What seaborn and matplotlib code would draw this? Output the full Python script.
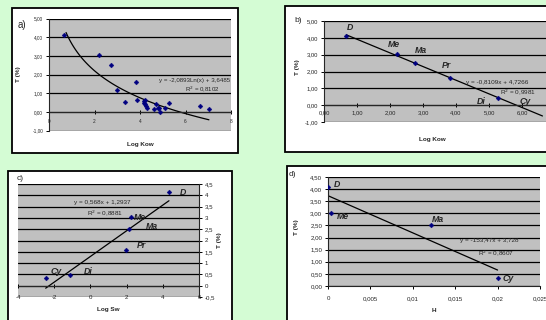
import matplotlib

matplotlib.use("Agg")

import matplotlib.pyplot as plt
import numpy as np
import pandas as pd
import seaborn as sns
from matplotlib.patches import Rectangle
from matplotlib.ticker import FuncFormatter, MultipleLocator

FIG_W, FIG_H = 546, 320
BG_GREEN = "#D4FCD4"
PLOT_GRAY = "#C0C0C0"
NAVY = "#000080"

# a) all compounds: log Kow vs T
A_LOGKOW = [0.68, 2.19, 2.73, 3.01, 3.32, 3.82, 3.86, 4.16, 4.18, 4.23, 4.24, 4.27,
            4.29, 4.60, 4.70, 4.77, 4.82, 4.89, 5.12, 5.29, 6.62, 7.03]
A_T = [4.11, 3.05, 2.50, 1.16, 0.54, 1.59, 0.66, 0.50, 0.59, 0.66, 0.40, 0.30,
       0.18, 0.14, 0.43, 0.23, 0.23, -0.02, 0.22, 0.45, 0.29, 0.16]
A_TREND = (-2.0893, 3.6485)  # y = a*Ln(x) + b

# b) named compounds: log Kow vs T
B_NAMES = ["D", "Me", "Ma", "Pr", "Di"]
B_LOGKOW = [0.68, 2.20, 2.75, 3.82, 5.28]
B_T = [4.10, 3.05, 2.50, 1.59, 0.45]
B_TREND = (-0.8109, 4.7266)
B_TREND_END = 6.62  # Cy

# c) log Sw vs T
C_NAMES = ["D", "Me", "Ma", "Pr", "Di", "Cy"]
C_LOGSW = [4.34, 2.27, 2.14, 1.98, -1.10, -2.47]
C_T = [4.13, 3.02, 2.50, 1.60, 0.47, 0.34]
C_TREND = (0.568, 1.2937)

# d) Henry constant vs T
D_NAMES = ["D", "Me", "Ma", "Cy"]
D_H = [0.0, 0.0003, 0.0121, 0.0200]
D_T = [4.09, 3.03, 2.50, 0.32]
D_TREND = (-153.47, 3.728)


def fig_rect(x0, y0, x1, y1):
    # pixel box (top-left origin) -> figure fraction [left, bottom, width, height]
    return [x0 / FIG_W, 1 - y1 / FIG_H, (x1 - x0) / FIG_W, (y1 - y0) / FIG_H]


def add_box(fig, x0, y0, x1, y1):
    l, b, w, h = fig_rect(x0, y0, x1, y1)
    fig.add_artist(Rectangle((l, b), w, h, transform=fig.transFigure, facecolor="white",
                             edgecolor="black", linewidth=1.3, zorder=-1))


def comma(fmt):
    return FuncFormatter(lambda v, p: format(v, fmt).replace(".", ","))


def style_axes(ax, tick_size):
    ax.set_facecolor(PLOT_GRAY)
    ax.grid(axis="y", color="black", linewidth=0.9)
    ax.grid(axis="x", visible=False)
    ax.set_axisbelow(True)
    for side in ["top", "right", "left", "bottom"]:
        ax.spines[side].set_visible(False)
    ax.tick_params(axis="both", labelsize=tick_size, length=2.2, width=0.7, color="black", pad=2)


def scatter(ax, x, y):
    df = pd.DataFrame({"x": x, "y": y})
    sns.scatterplot(data=df, x="x", y="y", ax=ax, marker="D", s=6, color=NAVY,
                    edgecolor=NAVY, linewidth=0.3, zorder=3, legend=False)


def trend(ax, x, y):
    df = pd.DataFrame({"x": x, "y": y})
    sns.lineplot(data=df, x="x", y="y", ax=ax, color="black", linewidth=0.9,
                 estimator=None, sort=False, zorder=2)


def point_labels(ax, names, spots, size=6.3):
    for name in names:
        x, y = spots[name]
        ax.text(x, y, name, fontsize=size, fontweight="bold", fontstyle="italic",
                ha="center", va="center", zorder=4)


def main():
    sns.set_style("ticks")
    plt.rcParams["font.family"] = ["Liberation Sans", "DejaVu Sans"]

    fig = plt.figure(figsize=(FIG_W / 100, FIG_H / 100), dpi=100, facecolor=BG_GREEN)

    add_box(fig, 12, 8, 238, 153)
    add_box(fig, 285, 6, 570, 152)
    add_box(fig, 7.5, 171, 231.5, 340)
    add_box(fig, 287, 166, 570, 340)

    # ---- a) ----
    ax = fig.add_axes(fig_rect(49, 18.5, 231, 130.5))
    style_axes(ax, 3.4)
    xs = np.linspace(min(A_LOGKOW) + 0.07, max(A_LOGKOW), 120)
    trend(ax, xs, A_TREND[0] * np.log(xs) + A_TREND[1])
    scatter(ax, A_LOGKOW, A_T)
    ax.set_xlim(0, 8)
    ax.set_ylim(-1, 5)
    ax.xaxis.set_major_locator(MultipleLocator(2))
    ax.yaxis.set_major_locator(MultipleLocator(1))
    ax.xaxis.set_major_formatter(comma("g"))
    ax.yaxis.set_major_formatter(comma(".2f"))
    ax.spines["left"].set_visible(True)
    ax.spines["bottom"].set_visible(True)
    ax.spines["bottom"].set_position(("data", 0))
    ax.tick_params(axis="x", direction="inout", length=3, pad=3.5)
    ax.set_xlabel("Log Kow", fontsize=4.6, fontweight="bold")
    ax.set_ylabel("T (%)", fontsize=4.6, fontweight="bold")
    ax.xaxis.set_label_coords(0.5, -0.10)
    ax.yaxis.set_label_coords(-0.155, 0.5)
    ax.text(4.85, 1.7, "y = -2,0893Ln(x) + 3,6485", fontsize=4.4, ha="left", va="center")
    ax.text(6.73, 1.2, "R$^2$ = 0,8102", fontsize=4.4, ha="center", va="center")
    fig.text(22 / FIG_W, 1 - 25 / FIG_H, "a)", fontsize=7, ha="center", va="center")

    # ---- b) ----
    ax = fig.add_axes(fig_rect(324, 21, 555, 122))
    style_axes(ax, 4.2)
    bx = np.array([min(B_LOGKOW), B_TREND_END])
    trend(ax, bx, B_TREND[0] * bx + B_TREND[1])
    scatter(ax, B_LOGKOW, B_T)
    ax.set_xlim(0, 7)
    ax.set_ylim(-1, 5)
    ax.xaxis.set_major_locator(MultipleLocator(1))
    ax.yaxis.set_major_locator(MultipleLocator(1))
    ax.xaxis.set_major_formatter(comma(".2f"))
    ax.yaxis.set_major_formatter(comma(".2f"))
    ax.spines["left"].set_visible(True)
    ax.spines["bottom"].set_visible(True)
    ax.spines["bottom"].set_position(("data", 0))
    ax.tick_params(axis="x", direction="inout", length=3, pad=2)
    ax.set_xlabel("Log Kow", fontsize=4.6, fontweight="bold")
    ax.set_ylabel("T (%)", fontsize=4.6, fontweight="bold")
    ax.xaxis.set_label_coords(0.47, -0.15)
    ax.yaxis.set_label_coords(-0.104, 0.54)
    point_labels(ax, B_NAMES + ["Cy"], {
        "D": (0.80, 4.6), "Me": (2.12, 3.63), "Ma": (2.95, 3.24), "Pr": (3.70, 2.35),
        "Di": (4.77, 0.2), "Cy": (6.11, 0.24)})
    ax.text(4.31, 1.32, "y = -0,8109x + 4,7266", fontsize=4.6, ha="left", va="center")
    ax.text(5.88, 0.78, "R$^2$ = 0,9981", fontsize=4.6, ha="center", va="center")
    fig.text(298 / FIG_W, 1 - 21 / FIG_H, "b)", fontsize=6, ha="center", va="center")

    # ---- c) ----
    ax = fig.add_axes(fig_rect(18, 184, 199, 297))
    style_axes(ax, 4.4)
    cx = np.array([min(C_LOGSW), max(C_LOGSW)])
    trend(ax, cx, C_TREND[0] * cx + C_TREND[1])
    scatter(ax, C_LOGSW, C_T)
    ax.set_xlim(-4, 6)
    ax.set_ylim(-0.5, 4.5)
    ax.xaxis.set_major_locator(MultipleLocator(2))
    ax.yaxis.set_major_locator(MultipleLocator(0.5))
    ax.xaxis.set_major_formatter(comma("g"))
    ax.yaxis.set_major_formatter(comma("g"))
    ax.yaxis.tick_right()
    ax.yaxis.set_label_position("right")
    ax.spines["right"].set_visible(True)
    ax.spines["bottom"].set_visible(True)
    ax.spines["bottom"].set_position(("data", 0))
    ax.tick_params(axis="x", direction="inout", length=3, pad=5)
    ax.set_xlabel("Log Sw", fontsize=4.6, fontweight="bold")
    ax.set_ylabel("T (%)", fontsize=4.6, fontweight="bold")
    ax.xaxis.set_label_coords(0.5, -0.085)
    ax.yaxis.set_label_coords(1.1, 0.5)
    point_labels(ax, C_NAMES, {
        "D": (5.13, 4.13), "Me": (2.72, 3.02), "Ma": (3.38, 2.63), "Pr": (2.83, 1.79),
        "Di": (-0.13, 0.61), "Cy": (-1.88, 0.61)})
    ax.text(0.65, 3.68, "y = 0,568x + 1,2937", fontsize=4.6, ha="center", va="center")
    ax.text(0.80, 3.20, "R$^2$ = 0,8881", fontsize=4.6, ha="center", va="center")
    fig.text(20 / FIG_W, 1 - 179 / FIG_H, "c)", fontsize=6, ha="center", va="center")

    # ---- d) ----
    ax = fig.add_axes(fig_rect(328, 177, 540, 286))
    style_axes(ax, 4.4)
    dx = np.array([min(D_H), max(D_H)])
    trend(ax, dx, D_TREND[0] * dx + D_TREND[1])
    scatter(ax, D_H, D_T)
    ax.set_xlim(0, 0.025)
    ax.set_ylim(0, 4.5)
    ax.xaxis.set_major_locator(MultipleLocator(0.005))
    ax.yaxis.set_major_locator(MultipleLocator(0.5))
    ax.xaxis.set_major_formatter(comma("g"))
    ax.yaxis.set_major_formatter(comma(".2f"))
    ax.spines["left"].set_visible(True)
    ax.spines["bottom"].set_visible(True)
    ax.tick_params(axis="x", pad=5)
    ax.set_xlabel("H", fontsize=4.6, fontweight="bold")
    ax.set_ylabel("T (%)", fontsize=4.6, fontweight="bold")
    ax.xaxis.set_label_coords(0.5, -0.2)
    ax.yaxis.set_label_coords(-0.137, 0.54)
    point_labels(ax, D_NAMES, {
        "D": (0.0011, 4.2), "Me": (0.0017, 2.87), "Ma": (0.0130, 2.76), "Cy": (0.0212, 0.32)})
    ax.text(0.0190, 1.86, "y = -153,47x + 3,728", fontsize=4.6, ha="center", va="center")
    ax.text(0.0198, 1.35, "R$^2$ = 0,8607", fontsize=4.6, ha="center", va="center")
    fig.text(292 / FIG_W, 1 - 175 / FIG_H, "d)", fontsize=6, ha="center", va="center")

    fig.savefig("out.png", dpi=100, facecolor=BG_GREEN)
    plt.close(fig)


if __name__ == "__main__":
    main()
